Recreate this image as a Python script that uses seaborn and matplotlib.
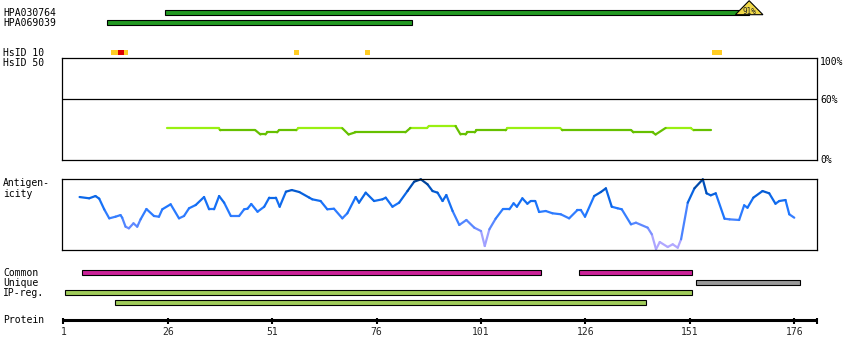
import numpy as np
import pandas as pd
import matplotlib
matplotlib.use("Agg")
import matplotlib.pyplot as plt
import seaborn as sns
from matplotlib.colors import LinearSegmentedColormap

# ---------------- data ----------------
antibody_names = ["HPA030764", "HPA069039"]
antibody_start = [25.3, 11.4]
antibody_end = [165.2, 84.6]
antibody_identity = ["91%", None]

hsid10_start = [12.3, 14.2, 15.6, 56.3, 73.3, 156.4]
hsid10_end = [14.2, 15.6, 16.6, 57.5, 74.5, 158.6]
hsid10_level = ["mid", "high", "mid", "mid", "mid", "mid"]

hs_res = [25.9, 38.2, 38.6, 47.0, 48.2, 49.4, 49.8, 52.2, 52.6, 56.8,
          57.2, 67.8, 69.3, 70.9, 82.9, 84.1, 88.1, 88.5, 94.9, 96.1,
          97.3, 97.7, 99.5, 99.9, 106.9, 107.3, 120.0, 120.5, 137.0, 137.5,
          142.1, 142.8, 145.2, 151.2, 151.9, 156.1]
hs_val = [31.2, 31.2, 29.2, 29.2, 25.1, 25.1, 27.2, 27.2, 29.2, 29.2,
          31.2, 31.2, 25.1, 27.2, 27.2, 31.5, 31.5, 33.4, 33.4, 25.1,
          25.1, 27.2, 27.2, 29.2, 29.2, 31.2, 31.2, 29.2, 29.2, 27.2,
          27.2, 25.1, 31.5, 31.5, 29.2, 29.2]

ag_res = [4.9, 7.2, 8.7, 9.6, 10.8, 12.0, 13.5, 14.7, 15.1, 15.9,
          16.7, 17.8, 18.7, 19.5, 20.9, 22.7, 23.9, 24.7, 26.7, 28.7,
          29.9, 31.1, 32.7, 34.7, 35.9, 37.1, 38.3, 39.5, 41.1, 43.1,
          44.3, 45.1, 46.0, 47.5, 49.1, 50.3, 51.9, 52.8, 54.3, 55.7,
          57.5, 59.9, 60.6, 62.6, 64.2, 65.8, 67.8, 69.0, 71.0, 71.8,
          73.4, 75.4, 77.4, 78.2, 79.8, 81.4, 83.4, 85.0, 86.6, 88.2,
          89.4, 90.6, 91.8, 92.7, 94.2, 95.8, 97.5, 99.4, 101.0, 101.9,
          103.0, 104.5, 106.2, 107.8, 108.8, 109.6, 110.9, 112.1, 112.9, 114.0,
          114.9, 116.5, 118.1, 120.1, 122.1, 124.1, 124.9, 125.9, 128.1, 129.7,
          130.9, 132.3, 133.7, 134.7, 136.9, 138.1, 140.9, 141.9, 142.9, 143.8,
          145.7, 146.9, 148.1, 148.9, 150.5, 152.1, 154.1, 155.0, 156.0, 157.2,
          159.3, 160.5, 162.8, 164.0, 164.8, 166.2, 168.4, 170.0, 171.5, 172.4,
          173.9, 174.8, 176.0]
ag_val = [0.743, 0.725, 0.757, 0.720, 0.570, 0.444, 0.467, 0.490, 0.453, 0.327,
          0.304, 0.374, 0.327, 0.430, 0.575, 0.477, 0.467, 0.571, 0.641, 0.444,
          0.477, 0.585, 0.631, 0.743, 0.571, 0.571, 0.757, 0.664, 0.477, 0.477,
          0.571, 0.579, 0.645, 0.537, 0.607, 0.734, 0.734, 0.607, 0.818, 0.841,
          0.813, 0.734, 0.711, 0.687, 0.571, 0.579, 0.444, 0.515, 0.743, 0.664,
          0.804, 0.687, 0.711, 0.734, 0.607, 0.664, 0.827, 0.958, 0.991, 0.921,
          0.827, 0.804, 0.687, 0.771, 0.547, 0.351, 0.421, 0.313, 0.266, 0.056,
          0.290, 0.439, 0.571, 0.571, 0.655, 0.607, 0.725, 0.649, 0.687, 0.687,
          0.533, 0.547, 0.515, 0.501, 0.444, 0.561, 0.561, 0.467, 0.757, 0.813,
          0.865, 0.607, 0.585, 0.571, 0.360, 0.383, 0.313, 0.220, 0.010, 0.112,
          0.042, 0.080, 0.032, 0.150, 0.664, 0.865, 0.991, 0.795, 0.767, 0.795,
          0.439, 0.430, 0.421, 0.627, 0.593, 0.734, 0.827, 0.795, 0.649, 0.687,
          0.701, 0.501, 0.453]

common_start = [5.5, 124.4]
common_end = [115.4, 151.6]
unique_start = [152.5]
unique_end = [177.4]
ipreg_start = [1.3, 13.3]
ipreg_end = [151.6, 140.6]

protein_ticks = [1, 26, 51, 76, 101, 126, 151, 176]
protein_end = 181.4

# ---------------- layout helpers ----------------
W, H = 850, 360
PX0 = 63.3     # pixel column of residue 1
PPR = 4.177    # pixels per residue
BAR_H = 4.4


def res(px):
    return 1 + (px - PX0) / PPR


sns.set_style("white")
plt.rcParams["font.family"] = ["DejaVu Sans Mono", "DejaVu Sans"]
FS = 7

fig = plt.figure(figsize=(W / 100, H / 100), dpi=100)
fig.patch.set_facecolor("white")


def add_px_axes(x0, y0, x1, y1):
    ax = fig.add_axes([x0 / W, 1 - y1 / H, (x1 - x0) / W, (y1 - y0) / H])
    ax.set_xlim(res(x0), res(x1))
    return ax


def label(xpx, ypx, s, **kw):
    fig.text(xpx / W, 1 - ypx / H, s, ha=kw.pop("ha", "left"),
             va=kw.pop("va", "baseline"), fontsize=kw.pop("fontsize", FS),
             color="black", **kw)


# main overlay axis in pixel rows
ax = add_px_axes(0, 0, W, H)
ax.set_ylim(H, 0)
ax.axis("off")

# antibody bars
ab_rows = [12.3, 22.3]
ax.barh(ab_rows, np.array(antibody_end) - np.array(antibody_start),
        left=antibody_start, height=BAR_H, color="#229922",
        edgecolor="black", linewidth=0.8, zorder=2)
for name, row in zip(antibody_names, ab_rows):
    label(3, row + 3.7, name)
for s, e, ident, row in zip(antibody_start, antibody_end, antibody_identity, ab_rows):
    if ident:
        ax.fill([e - 3.3, e, e + 3.3], [row + 2.4, 0.7, row + 2.4],
                facecolor="#f0d848", edgecolor="black", linewidth=0.8, zorder=3)
        ax.text(e, row - 0.6, ident, ha="center", va="center",
                fontsize=5.5, zorder=4)

# HsID 10 blocks
hs_colors = {"mid": "#ffcc22", "high": "#dd0000"}
ax.barh([52.3] * len(hsid10_start),
        np.array(hsid10_end) - np.array(hsid10_start), left=hsid10_start,
        height=4.7, color=[hs_colors[l] for l in hsid10_level],
        linewidth=0, zorder=2)
label(3, 55.5, "HsID 10")
label(3, 66, "HsID 50")

# HsID panel
ax_hs = add_px_axes(62.3, 58.3, 817.3, 160.0)
ax_hs.set_ylim(0, 100)
ax_hs.patch.set_alpha(0)
rows = []
for i in range(len(hs_res) - 1):
    m = (hs_val[i] + hs_val[i + 1]) / 2
    c = "light" if m >= 30 else "dark"
    rows.append((i, hs_res[i], hs_val[i], c))
    rows.append((i, hs_res[i + 1], hs_val[i + 1], c))
df_hs = pd.DataFrame(rows, columns=["seg", "res", "val", "col"])
sns.lineplot(data=df_hs, x="res", y="val", hue="col", units="seg",
             estimator=None, sort=False, legend=False, ax=ax_hs,
             palette={"light": "#99f011", "dark": "#66c000"}, linewidth=1.6)
ax_hs.axhline(60, color="black", linewidth=0.9)
ax_hs.set_xlim(res(62.3), res(817.3))
ax_hs.set_xticks([]); ax_hs.set_yticks([])
ax_hs.set_xlabel(""); ax_hs.set_ylabel("")
for sp in ax_hs.spines.values():
    sp.set_color("black"); sp.set_linewidth(0.9); sp.set_visible(True)
label(820, 65, "100%")
label(820, 103.3, "60%")
label(820, 163.3, "0%")

# Antigenicity panel
ax_ag = add_px_axes(62.3, 178.7, 817.3, 250.0)
ax_ag.set_ylim(0, 1)
ax_ag.patch.set_alpha(0)
cmap = LinearSegmentedColormap.from_list(
    "ag", [(0.0, "#b8aaff"), (0.15, "#a8a4ff"), (0.3, "#6f8cff"),
           (0.45, "#3a80ff"), (0.6, "#1f77ff"), (0.75, "#0a66e6"),
           (0.88, "#0052c0"), (1.0, "#003c88")])
rows = []
for i in range(len(ag_res) - 1):
    m = (ag_val[i] + ag_val[i + 1]) / 2
    rows.append((i, ag_res[i], ag_val[i], m))
    rows.append((i, ag_res[i + 1], ag_val[i + 1], m))
df_ag = pd.DataFrame(rows, columns=["seg", "res", "val", "c"])
sns.lineplot(data=df_ag, x="res", y="val", hue="c", units="seg",
             estimator=None, sort=False, legend=False, ax=ax_ag,
             palette=cmap, hue_norm=(0, 1), linewidth=1.6)
ax_ag.set_xlim(res(62.3), res(817.3))
ax_ag.set_ylim(0, 1)
ax_ag.set_xticks([]); ax_ag.set_yticks([])
ax_ag.set_xlabel(""); ax_ag.set_ylabel("")
for sp in ax_ag.spines.values():
    sp.set_color("black"); sp.set_linewidth(0.9); sp.set_visible(True)
for ln in ax_ag.get_lines():
    ln.set_clip_on(False)
label(3, 186, "Antigen-")
label(3, 196.7, "icity")

# Common / Unique / IP-reg tracks
def track(starts, ends, row, color):
    ax.barh([row] * len(starts), np.array(ends) - np.array(starts),
            left=starts, height=BAR_H, color=color, edgecolor="black",
            linewidth=0.8, zorder=2)

track(common_start, common_end, 272.3, "#cc2299")
track(unique_start, unique_end, 282.3, "#999999")
track(ipreg_start[:1], ipreg_end[:1], 292.3, "#a0cc5a")
track(ipreg_start[1:], ipreg_end[1:], 302.3, "#a0cc5a")
label(3, 276, "Common")
label(3, 285.5, "Unique")
label(3, 295.5, "IP-reg.")

# Protein axis
ax.plot([1, protein_end], [319.7, 319.7], color="black", linewidth=2.2,
        solid_capstyle="butt")
ax.vlines(protein_ticks + [protein_end], 318.4, 323.6, color="black",
          linewidth=1.5)
for t in protein_ticks:
    ax.text(t, 335, str(t), ha="center", va="baseline", fontsize=FS)
label(3, 323.3, "Protein")

fig.savefig("out.png", dpi=100, facecolor="white")
